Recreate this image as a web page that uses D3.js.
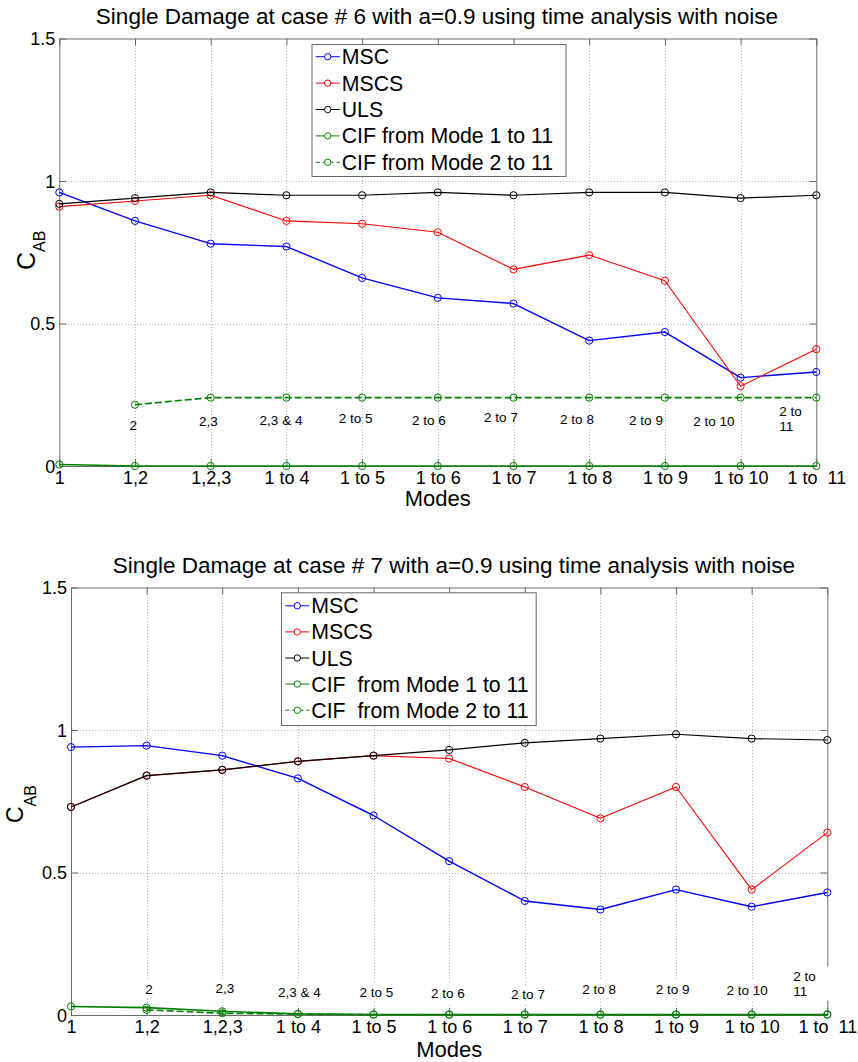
<!DOCTYPE html>
<html>
<head>
<meta charset="utf-8">
<script src="https://cdn.jsdelivr.net/npm/d3@7"></script>
<style>
  html, body { margin: 0; padding: 0; background: #fff; }
  svg { display: block; font-family: "Liberation Sans", Arial, sans-serif; }
</style>
</head>
<body>
<svg id="chart" width="858" height="1062"></svg>
<script>
// ---------------- DATA ----------------
const categories = ["1", "1,2", "1,2,3", "1 to 4", "1 to 5", "1 to 6", "1 to 7", "1 to 8", "1 to 9", "1 to 10", "1 to  11"];
const yTickValues = [0, 0.5, 1, 1.5];
const yTickLabels = ["0", "0.5", "1", "1.5"];

// Case 6
const case6Title = "Single Damage at case # 6 with a=0.9 using time analysis with noise";
const case6MSC  = [0.96, 0.86, 0.78, 0.77, 0.66, 0.59, 0.57, 0.44, 0.47, 0.31, 0.33];
const case6MSCS = [0.91, 0.93, 0.95, 0.86, 0.85, 0.82, 0.69, 0.74, 0.65, 0.28, 0.41];
const case6ULS  = [0.92, 0.94, 0.96, 0.95, 0.95, 0.96, 0.95, 0.96, 0.96, 0.94, 0.95];
const case6CIF1 = [0.005, 0, 0, 0, 0, 0, 0, 0, 0, 0, 0];
const case6CIF2 = [null, 0.215, 0.24, 0.24, 0.24, 0.24, 0.24, 0.24, 0.24, 0.24, 0.24];
const case6Legend = ["MSC", "MSCS", "ULS", "CIF from Mode 1 to 11", "CIF from Mode 2 to 11"];
const case6Notes = ["2", "2,3", "2,3 & 4", "2 to 5", "2 to 6", "2 to 7", "2 to 8", "2 to 9", "2 to 10", "2 to\n11"];

// Case 7
const case7Title = "Single Damage at case # 7 with a=0.9 using time analysis with noise";
const case7MSC  = [0.94, 0.945, 0.91, 0.83, 0.70, 0.54, 0.40, 0.37, 0.44, 0.38, 0.43];
const case7MSCS = [0.73, 0.84, 0.86, 0.89, 0.91, 0.90, 0.80, 0.69, 0.80, 0.44, 0.64];
const case7ULS  = [0.73, 0.84, 0.86, 0.89, 0.91, 0.93, 0.955, 0.97, 0.985, 0.97, 0.965];
const case7CIF1 = [0.03, 0.026, 0.013, 0.004, 0.002, 0.002, 0.002, 0.002, 0.002, 0.002, 0.002];
const case7CIF2 = [null, 0.018, 0.006, 0.003, 0.001, 0.001, 0.001, 0.001, 0.001, 0.001, 0.001];
const case7Legend = ["MSC", "MSCS", "ULS", "CIF  from Mode 1 to 11", "CIF  from Mode 2 to 11"];
const case7Notes = ["2", "2,3", "2,3 & 4", "2 to 5", "2 to 6", "2 to 7", "2 to 8", "2 to 9", "2 to 10", "2 to\n11"];

const seriesColors = ["#0000ff", "#ff0000", "#000000", "#008000", "#008000"];
const seriesWidths = [1.4, 1.1, 1.2, 1.6, 1.6];
const seriesDash = [null, null, null, null, "7,3"];

// ---------------- DRAW ----------------
const svg = d3.select("#chart");
const FONT = "'Liberation Sans', Arial, sans-serif";

function drawChart(cfg) {
  const g = svg.append("g");
  const x = d3.scaleLinear().domain([0, categories.length - 1]).range([cfg.left, cfg.right]);
  const y = d3.scaleLinear().domain([0, 1.5]).range([cfg.bottom, cfg.top]);

  // title
  g.append("text").attr("x", cfg.titleX).attr("y", cfg.titleY)
    .attr("text-anchor", "middle").attr("font-size", 22.5).attr("fill", "#000")
    .text(cfg.title);

  // grid
  const grid = g.append("g").attr("stroke", "#b4b4b4").attr("stroke-width", 1)
    .attr("stroke-dasharray", "1,2").attr("shape-rendering", "crispEdges");
  categories.forEach((c, i) => {
    if (i === 0 || i === categories.length - 1) return;
    grid.append("line").attr("x1", Math.round(x(i)) + 0.5).attr("x2", Math.round(x(i)) + 0.5)
      .attr("y1", y(1.5)).attr("y2", y(0));
  });
  yTickValues.forEach(v => {
    if (v === 0 || v === 1.5) return;
    grid.append("line").attr("y1", Math.round(y(v)) + 0.5).attr("y2", Math.round(y(v)) + 0.5)
      .attr("x1", x(0)).attr("x2", x(10));
  });

  // axes (box + inward ticks) via d3 axes
  const axisColor = "#6a6a6a";
  const xb = d3.axisBottom(x).tickValues(d3.range(categories.length))
    .tickFormat(i => categories[i]).tickSizeInner(-7).tickSizeOuter(0).tickPadding(4);
  const xt = d3.axisTop(x).tickValues(d3.range(categories.length))
    .tickFormat("").tickSizeInner(-7).tickSizeOuter(0);
  const yl = d3.axisLeft(y).tickValues(yTickValues)
    .tickFormat((d, i) => yTickLabels[i]).tickSizeInner(-7).tickSizeOuter(0).tickPadding(4);
  const yr = d3.axisRight(y).tickValues(yTickValues).tickFormat("").tickSizeInner(-7).tickSizeOuter(0);

  const gx = g.append("g").attr("transform", `translate(0,${cfg.bottom})`).call(xb);
  const gxt = g.append("g").attr("transform", `translate(0,${cfg.top})`).call(xt);
  const gyl = g.append("g").attr("transform", `translate(${cfg.left},0)`).call(yl);
  const gyr = g.append("g").attr("transform", `translate(${cfg.right},0)`).call(yr);
  [gx, gxt, gyl, gyr].forEach(a => {
    a.selectAll(".domain").attr("stroke", axisColor).attr("stroke-width", 1);
    a.selectAll(".tick line").attr("stroke", axisColor).attr("stroke-width", 1);
    a.selectAll("text").attr("font-family", FONT).attr("font-size", 18).attr("fill", "#000");
  });
  gx.selectAll(".tick text").attr("dy", "0.78em").attr("y", 4).style("white-space", "pre");
  gyl.selectAll(".tick text").attr("dy", "0.36em");

  // x label
  g.append("text").attr("x", (cfg.left + cfg.right) / 2).attr("y", cfg.xLabelY)
    .attr("text-anchor", "middle").attr("font-size", 22).text("Modes");

  // y label C_AB
  const yt = g.append("text")
    .attr("transform", `translate(${cfg.yLabelX},${cfg.yLabelY}) rotate(-90)`)
    .attr("font-size", cfg.yLabelSize);
  yt.append("tspan").text("C");
  yt.append("tspan").attr("font-size", 16).attr("dy", cfg.yLabelSub).text("AB");

  // data series
  const series = [cfg.msc, cfg.mscs, cfg.uls, cfg.cif1, cfg.cif2];
  const line = d3.line().defined(d => d.v !== null).x(d => x(d.i)).y(d => y(d.v));
  series.forEach((vals, s) => {
    const pts = vals.map((v, i) => ({ i, v }));
    const p = g.append("path").datum(pts).attr("d", line)
      .attr("fill", "none").attr("stroke", seriesColors[s])
      .attr("stroke-width", seriesWidths[s]).attr("stroke-linejoin", "round");
    if (seriesDash[s]) p.attr("stroke-dasharray", seriesDash[s]);
    g.append("g").selectAll("circle").data(pts.filter(d => d.v !== null)).join("circle")
      .attr("cx", d => x(d.i)).attr("cy", d => y(d.v)).attr("r", 3.6)
      .attr("fill", "none").attr("stroke", seriesColors[s]).attr("stroke-width", 1);
  });

  // annotations
  cfg.notes.forEach((txt, k) => {
    const pos = cfg.notePos[k];
    const lines = txt.split("\n");
    const t = g.append("text").attr("font-size", 13.5).attr("fill", "#000");
    if (lines.length === 1) {
      t.attr("x", pos[0]).attr("y", pos[1]).attr("text-anchor", "middle").text(txt);
    } else {
      t.attr("x", pos[0]).attr("y", pos[1]);
      lines.forEach((ln, j) => t.append("tspan").attr("x", pos[0]).attr("dy", j === 0 ? 0 : 15).text(ln));
    }
    if (cfg.noteBg) {
      const bb = t.node().getBBox();
      let w = bb.width + 6;
      if (lines.length > 1) w = Math.max(w, cfg.right + 3 - (bb.x - 3));
      g.insert("rect", () => t.node())
        .attr("x", bb.x - 3).attr("y", bb.y - 2).attr("width", w).attr("height", bb.height + 4)
        .attr("fill", "#fff");
    }
  });

  // legend
  const L = cfg.legend;
  const lg = g.append("g");
  lg.append("rect").attr("x", L.x0 + 0.5).attr("y", L.y0 + 0.5).attr("width", L.x1 - L.x0).attr("height", L.y1 - L.y0)
    .attr("fill", "#fff").attr("stroke", "#6a6a6a").attr("stroke-width", 1);
  cfg.legendLabels.forEach((lab, s) => {
    const cy = L.row0 + s * L.rowStep;
    const ln = lg.append("line").attr("x1", L.tx - 26).attr("x2", L.tx - 2).attr("y1", cy).attr("y2", cy)
      .attr("stroke", seriesColors[s]).attr("stroke-width", 1);
    if (seriesDash[s]) ln.attr("stroke-dasharray", "4,3");
    lg.append("circle").attr("cx", L.tx - 14).attr("cy", cy).attr("r", 3.2)
      .attr("fill", "#fff").attr("stroke", seriesColors[s]).attr("stroke-width", 1);
    lg.append("text").attr("x", L.tx).attr("y", cy + 7.5).attr("font-size", 21.3)
      .style("white-space", "pre").text(lab);
  });
}

drawChart({
  left: 59.3, right: 816.3, top: 38.5, bottom: 466,
  title: case6Title, titleX: 437, titleY: 23.5,
  xLabelY: 506, yLabelX: 35, yLabelY: 270, yLabelSize: 25, yLabelSub: 10,
  msc: case6MSC, mscs: case6MSCS, uls: case6ULS, cif1: case6CIF1, cif2: case6CIF2,
  notes: case6Notes, noteBg: false,
  notePos: [[133.3, 430], [208.3, 426], [281, 425], [355.7, 422.7], [428.8, 425], [501, 422], [577, 424], [646, 425], [714, 425.7], [779.3, 416]],
  legendLabels: case6Legend,
  legend: { x0: 311.5, x1: 565.5, y0: 44, y1: 176, row0: 56.7, rowStep: 26.4, tx: 341.7 }
});

drawChart({
  left: 71, right: 827.3, top: 587.5, bottom: 1015,
  title: case7Title, titleX: 454, titleY: 572.5,
  xLabelY: 1056.5, yLabelX: 23.3, yLabelY: 823, yLabelSize: 23, yLabelSub: 12.5,
  msc: case7MSC, mscs: case7MSCS, uls: case7ULS, cif1: case7CIF1, cif2: case7CIF2,
  notes: case7Notes, noteBg: true,
  notePos: [[149, 994], [225, 993], [299.3, 997], [376.3, 996.7], [447.8, 998], [528, 999], [599.2, 994.3], [672.7, 994.3], [747.2, 995], [793.3, 980.7]],
  legendLabels: case7Legend,
  legend: { x0: 281, x1: 535.7, y0: 592.3, y1: 725, row0: 605.8, rowStep: 26.1, tx: 311.3 }
});
</script>
</body>
</html>
